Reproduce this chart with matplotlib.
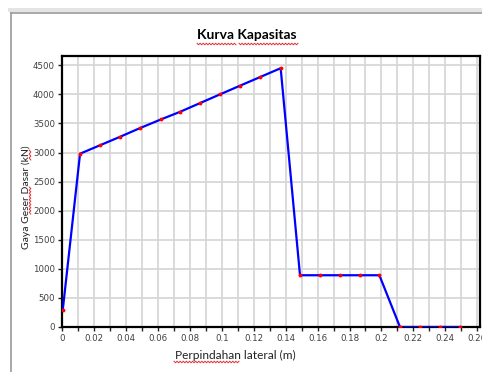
import matplotlib.pyplot as plt
from matplotlib.lines import Line2D
from matplotlib.patches import Rectangle
from matplotlib.ticker import MultipleLocator, FuncFormatter
import numpy as np

# pushover capacity curve
displacement = [0.0005, 0.0113, 0.0238, 0.0363, 0.0488, 0.0620, 0.0739, 0.0864,
                0.0989, 0.1115, 0.1238, 0.1369, 0.1490, 0.1614, 0.1743, 0.1866,
                0.1987, 0.2116, 0.2240, 0.2365, 0.2492]
base_shear = [300, 2980, 3125, 3270, 3420, 3570, 3700, 3850,
              4000, 4150, 4295, 4450, 890, 890, 890, 890,
              890, 0, 0, 0, 0]

W, H = 482, 372
fig = plt.figure(figsize=(W / 100, H / 100), dpi=100)
fig.patch.set_facecolor('white')

def px(x, y):
    return x / W, 1 - y / H

# window frame around the chart
fig.patches.append(Rectangle(px(8, 12), 1, 4 / H, transform=fig.transFigure,
                             facecolor='#e4e4e4', edgecolor='none'))
fig.lines.append(Line2D([11 / W, 11 / W], [0, 1 - 13 / H], transform=fig.transFigure,
                        color='#9a9a9a', lw=1.2))
fig.lines.append(Line2D([11 / W, 1], [1 - 13 / H, 1 - 13 / H], transform=fig.transFigure,
                        color='#9a9a9a', lw=1.2))

l, b = px(62, 327)
r, t = px(480, 56)
ax = fig.add_axes([l, b, r - l, t - b])

ax.plot(displacement, base_shear, color='#0000ff', lw=1.6, zorder=3)
ax.plot(displacement, base_shear, 'o', color='#ff0000', ms=2.8, mew=0, zorder=4)

ax.set_xlim(0, 0.2617)
ax.set_ylim(0, 4660)
ax.xaxis.set_major_locator(MultipleLocator(0.02))
ax.xaxis.set_minor_locator(MultipleLocator(0.01))
ax.yaxis.set_major_locator(MultipleLocator(500))
ax.xaxis.set_major_formatter(FuncFormatter(lambda v, p: f'{round(v, 3):g}'))
ax.grid(True, which='both', axis='x', color='#d4d4d4', lw=1.2)
ax.grid(True, which='major', axis='y', color='#d4d4d4', lw=1.2)
ax.set_axisbelow(True)

for s in ax.spines.values():
    s.set_linewidth(1.6)
    s.set_color('black')
ax.tick_params(which='both', direction='out', length=3, width=1, color='#222222',
               labelsize=6.2, labelcolor='#404040', pad=2)

fig.text(*px(247, 35), 'Kurva Kapasitas', ha='center', va='center',
         fontsize=10, fontweight='bold', family='Lato', color='black')
fig.text(*px(26, 197), 'Gaya Geser Dasar (kN)', ha='center', va='center',
         rotation=90, fontsize=7.5, family='Lato', color='#222222')
fig.text(*px(235, 355), 'Perpindahan lateral (m)', ha='center', va='center',
         fontsize=8.6, family='Lato', color='#222222')

# spell-check squiggles under some words
def squiggle(x0, y0, x1, y1):
    n = max(int(np.hypot(x1 - x0, y1 - y0) / 1.5), 2)
    tt = np.linspace(0, 1, n)
    xs = x0 + (x1 - x0) * tt
    ys = y0 + (y1 - y0) * tt
    off = np.where(np.arange(n) % 2 == 0, -0.8, 0.8)
    if x1 - x0 > y1 - y0:
        ys = ys + off
    else:
        xs = xs + off
    fig.lines.append(Line2D(xs / W, 1 - ys / H, transform=fig.transFigure,
                            color='#e03030', lw=0.7))

squiggle(197, 44, 236, 44)
squiggle(239, 44, 298, 44)
squiggle(30, 187, 30, 214)
squiggle(30, 150, 30, 160)
squiggle(174, 362, 239, 362)

fig.savefig('out.png', dpi=100)
